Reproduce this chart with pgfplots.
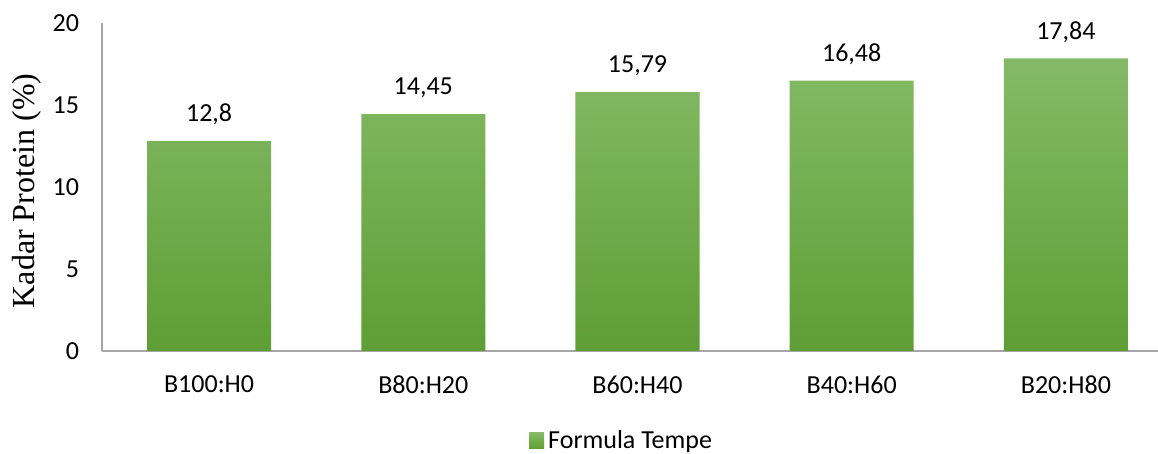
\documentclass[border=0pt]{standalone}
\usepackage{pgfplots}
\pgfplotsset{compat=1.18}
\usepackage{fontspec}
\setmainfont{Carlito}
\newfontfamily\serif{Liberation Serif}

\definecolor{bartop}{HTML}{84BA66}
\definecolor{barmid}{HTML}{70AD47}
\definecolor{barbot}{HTML}{5E9E35}
\definecolor{axisgray}{HTML}{A6A6A6}

\begin{document}
\begin{tikzpicture}
\begin{axis}[
    name=ax,
    width=528pt, height=164pt,
    scale only axis,
    xmin=-0.5, xmax=4.43,
    ymin=0, ymax=20,
    ytick={0,5,10,15,20},
    xtick={0,1,2,3,4},
    xticklabels={B100:H0,B80:H20,B60:H40,B40:H60,B20:H80},
    axis x line*=bottom,
    axis y line*=left,
    axis line style={draw=axisgray, line width=0.8pt},
    major tick length=0pt,
    tick style={draw=none},
    ticklabel style={font=\fontsize{13}{15}\selectfont},
    yticklabel style={xshift=-8pt},
    xticklabel style={yshift=-8.7pt},
    /pgf/number format/assume math mode=true,
    ylabel={\serif Kadar Protein (\%)},
    every axis y label/.style={at={(axis description cs:-0.071,0.488)}, rotate=90,
        anchor=center, font=\fontsize{16}{18}\selectfont},
    ybar, bar width=62pt,
    nodes near coords,
    point meta=explicit symbolic,
    every node near coord/.append style={font=\fontsize{13}{15}\selectfont,
        inner sep=0pt, text depth=0pt, yshift=9.5pt, black},
    legend style={draw=none, at={(0.493,0)}, anchor=center, yshift=-45pt,
        font=\fontsize{13}{15}\selectfont, inner sep=0pt},
    legend image code/.code={\fill[top color=bartop, bottom color=barbot, middle color=barmid, draw=none]
        (0pt,-4pt) rectangle (7.5pt,4pt);},
]
\addplot[draw=none, top color=bartop, middle color=barmid, bottom color=barbot]
    coordinates {
    (0,12.80) [12,8]
    (1,14.45) [14,45]
    (2,15.79) [15,79]
    (3,16.48) [16,48]
    (4,17.84) [17,84]
};
\legend{Formula Tempe}
\end{axis}
\pgfresetboundingbox
\path ([xshift=-51pt,yshift=-51.5pt]ax.south west) rectangle ([yshift=11.5pt]ax.north east);
\end{tikzpicture}
\end{document}
